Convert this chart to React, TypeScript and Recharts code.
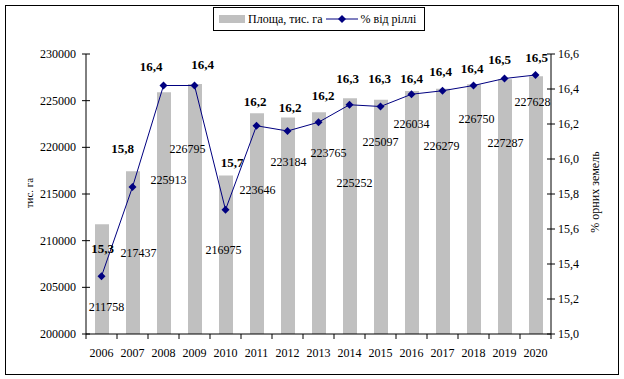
import { ComposedChart, Bar, Line, XAxis, YAxis, LabelList } from 'recharts';

const years = ['2006', '2007', '2008', '2009', '2010', '2011', '2012', '2013', '2014', '2015', '2016', '2017', '2018', '2019', '2020'];
const area = [211758, 217437, 225913, 226795, 216975, 223646, 223184, 223765, 225252, 225097, 226034, 226279, 226750, 227287, 227628];
const share = [15.33, 15.84, 16.42, 16.42, 15.71, 16.19, 16.16, 16.21, 16.31, 16.3, 16.37, 16.39, 16.42, 16.46, 16.48];
const areaTicks = [200000, 205000, 210000, 215000, 220000, 225000, 230000];
const shareTicks = [15, 15.2, 15.4, 15.6, 15.8, 16, 16.2, 16.4, 16.6];

// labels were dragged around by hand in the original, so shift each one (dx, dy of text centre)
const areaLabelShift = [
  [4.5, 83], [5.5, 82], [4.5, 88], [-7.5, 65], [-2.5, 74], [0.5, 77], [0.5, 44], [9.5, 41],
  [4.5, 85], [-0.5, 42], [-0.5, 33], [-1.5, 57], [2.5, 35], [0.5, 64], [-3.5, 26],
];
const shareLabelShift = [
  [1, -28], [-10, -39], [-12.5, -19], [8, -21], [6.5, -47], [-1.5, -24], [2.5, -24], [4.5, -27],
  [-2, -26], [-1, -28], [0, -16], [-2, -19], [-1.5, -17], [-5, -19], [1, -18],
];

const data = years.map((year, i) => ({ year, area: area[i], share: share[i] }));

const FONT = '"Liberation Serif", "Times New Roman", serif';
const NAVY = '#000080';
const GREY = '#C0C0C0';
const W = 624;
const H = 379;
const PLOT_LEFT = 86;
const PLOT_RIGHT = 551;
const HALF_BAND = (PLOT_RIGHT - PLOT_LEFT) / years.length / 2;

const comma = (v: number) => v.toFixed(1).replace('.', ',');

const LeftTick = ({ x, y, payload }: any) => {
  const ax = x + 6;
  return (
    <g>
      <line x1={ax - 4} x2={ax + 4} y1={y} y2={y} stroke="#000" />
      <text x={ax - 10} y={y} textAnchor="end" dominantBaseline="central" fontFamily={FONT} fontSize={12} fill="#000">
        {payload.value}
      </text>
    </g>
  );
};

const RightTick = ({ x, y, payload }: any) => {
  const ax = x - 6;
  return (
    <g>
      <line x1={ax - 4} x2={ax + 4} y1={y} y2={y} stroke="#000" />
      <text x={ax + 7} y={y} textAnchor="start" dominantBaseline="central" fontFamily={FONT} fontSize={12} fill="#000">
        {comma(payload.value)}
      </text>
    </g>
  );
};

const YearTick = ({ x, y, payload, index }: any) => {
  const ay = y - 6;
  return (
    <g>
      <line x1={x - HALF_BAND} x2={x - HALF_BAND} y1={ay} y2={ay + 5} stroke="#000" />
      {index === years.length - 1 && (
        <line x1={x + HALF_BAND} x2={x + HALF_BAND} y1={ay} y2={ay + 5} stroke="#000" />
      )}
      <text x={x} y={ay + 19} textAnchor="middle" dominantBaseline="central" fontFamily={FONT} fontSize={12} fill="#000">
        {payload.value}
      </text>
    </g>
  );
};

const Diamond = ({ cx, cy }: any) => (
  <polygon points={`${cx},${cy - 4} ${cx + 4},${cy} ${cx},${cy + 4} ${cx - 4},${cy}`} fill={NAVY} />
);

const AreaLabel = ({ x, y, width, value, index }: any) => {
  const [dx, dy] = areaLabelShift[index];
  return (
    <text x={x + width / 2 + dx} y={y + dy} textAnchor="middle" dominantBaseline="central" fontFamily={FONT} fontSize={12} fill="#000">
      {value}
    </text>
  );
};

const ShareLabel = ({ x, y, value, index }: any) => {
  const [dx, dy] = shareLabelShift[index];
  return (
    <text x={x + dx} y={y + dy} textAnchor="middle" dominantBaseline="central" fontFamily={FONT} fontSize={13} fontWeight="bold" fill="#000">
      {comma(value)}
    </text>
  );
};

export default function App() {
  return (
    <div style={{ position: 'absolute', left: 0, top: 0, width: W, height: H, background: '#fff', fontFamily: FONT }}>
      <div style={{ position: 'absolute', left: 5, top: 5, width: 614, height: 370, border: '1px solid #000', boxSizing: 'border-box' }} />

      {/* legend */}
      <div
        style={{
          position: 'absolute', left: 213, top: 7, width: 212, height: 24, border: '1px solid #000',
          boxSizing: 'border-box', display: 'flex', alignItems: 'center', fontSize: 12, color: '#000', background: '#fff',
        }}
      >
        <div style={{ width: 26, height: 8, background: GREY, marginLeft: 5, marginRight: 3 }} />
        <span>Площа, тис. га</span>
        <svg width={32} height={10} style={{ marginLeft: 4, marginRight: 2 }}>
          <line x1={0} x2={32} y1={5} y2={5} stroke={NAVY} />
          <polygon points="16,1 20,5 16,9 12,5" fill={NAVY} />
        </svg>
        <span>% від ріллі</span>
      </div>

      <ComposedChart width={W} height={H} data={data} margin={{ top: 54, right: 13, bottom: 15, left: 26 }}>
        <XAxis dataKey="year" height={30} tickSize={4} tickMargin={2} tickLine={false} axisLine={{ stroke: '#000' }} tick={<YearTick />} interval={0} />
        <YAxis
          yAxisId="left"
          width={60}
          domain={[200000, 230000]}
          ticks={areaTicks}
          tickSize={4}
          tickMargin={2}
          tickLine={false}
          axisLine={{ stroke: '#000' }}
          tick={<LeftTick />}
          allowDataOverflow
        />
        <YAxis
          yAxisId="right"
          orientation="right"
          width={60}
          domain={[15, 16.6]}
          ticks={shareTicks}
          tickSize={4}
          tickMargin={2}
          tickLine={false}
          axisLine={{ stroke: '#000' }}
          tick={<RightTick />}
          allowDataOverflow
        />
        <Bar yAxisId="left" dataKey="area" fill={GREY} barSize={14} isAnimationActive={false}>
          <LabelList dataKey="area" content={<AreaLabel />} />
        </Bar>
        <Line
          yAxisId="right"
          dataKey="share"
          stroke={NAVY}
          strokeWidth={1}
          dot={<Diamond />}
          activeDot={false}
          isAnimationActive={false}
        >
          <LabelList dataKey="share" content={<ShareLabel />} />
        </Line>
      </ComposedChart>

      <svg width={W} height={H} style={{ position: 'absolute', left: 0, top: 0, pointerEvents: 'none' }}>
        <text x={29} y={193} transform="rotate(-90 29 193)" textAnchor="middle" dominantBaseline="central" fontFamily={FONT} fontSize={11} fill="#000">
          тис. га
        </text>
        <text x={595} y={192} transform="rotate(-90 595 192)" textAnchor="middle" dominantBaseline="central" fontFamily={FONT} fontSize={12} fill="#000">
          % орних земель
        </text>
      </svg>
    </div>
  );
}
